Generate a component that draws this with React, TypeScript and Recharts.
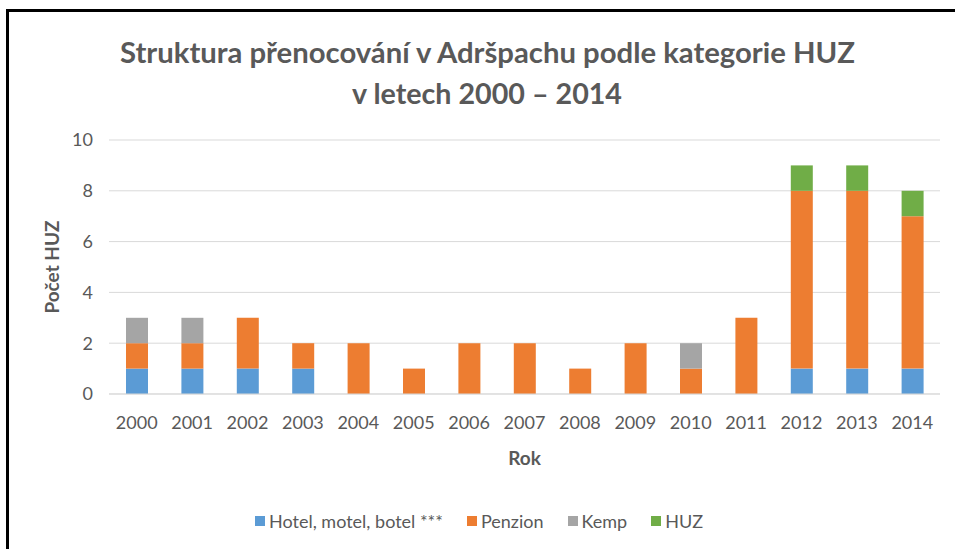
import React from "react";
import { BarChart, Bar, XAxis, YAxis, CartesianGrid, Legend, Label } from "recharts";

const years = ["2000","2001","2002","2003","2004","2005","2006","2007","2008","2009","2010","2011","2012","2013","2014"];
const hotel = [1, 1, 1, 1, 0, 0, 0, 0, 0, 0, 0, 0, 1, 1, 1];
const penzion = [1, 1, 2, 1, 2, 1, 2, 2, 1, 2, 1, 3, 7, 7, 6];
const kemp = [1, 1, 0, 0, 0, 0, 0, 0, 0, 0, 1, 0, 0, 0, 0];
const huz = [0, 0, 0, 0, 0, 0, 0, 0, 0, 0, 0, 0, 1, 1, 1];
const yTicks = [0, 2, 4, 6, 8, 10];

const seriesNames = ["Hotel, motel, botel ***", "Penzion", "Kemp", "HUZ"];
const seriesKeys = ["hotel", "penzion", "kemp", "huz"];
const colors = ["#5B9BD5", "#ED7D31", "#A5A5A5", "#70AD47"];

const data = years.map((y, i) => ({
  year: y,
  hotel: hotel[i],
  penzion: penzion[i],
  kemp: kemp[i],
  huz: huz[i],
}));

const FONT = "Lato, 'Open Sans', sans-serif";
const TXT = "#595959";

const LegendContent = () => (
  <div style={{ display: "flex", justifyContent: "center", alignItems: "center", height: 24, fontFamily: FONT, fontSize: 18, color: TXT, paddingLeft: 18 }}>
    {seriesNames.map((n, i) => (
      <div key={n} style={{ display: "flex", alignItems: "center", marginRight: i < 3 ? 24 : 0 }}>
        <div style={{ width: 10, height: 10, background: colors[i], marginRight: 4 }} />
        <span>{n}</span>
      </div>
    ))}
  </div>
);

export default function App() {
  return (
    <div style={{ position: "absolute", left: 0, top: 0, width: 955, height: 549, background: "#fff", overflow: "hidden" }}>
      <div style={{ position: "absolute", left: 6, top: 9, width: 960, height: 560, borderTop: "3px solid #000", borderLeft: "3px solid #000" }} />
      <svg width={955} height={120} style={{ position: "absolute", left: 0, top: 0 }}>
        <text x={487.5} y={63} textAnchor="middle" fontFamily={FONT} fontWeight="bold" fontSize={28} fill={TXT} textLength={735} lengthAdjust="spacingAndGlyphs">
          Struktura přenocování v Adršpachu podle kategorie HUZ
        </text>
        <text x={487} y={104} textAnchor="middle" fontFamily={FONT} fontWeight="bold" fontSize={28} fill={TXT} textLength={270} lengthAdjust="spacingAndGlyphs">
          v letech 2000 – 2014
        </text>
      </svg>
      <div style={{ position: "absolute", left: 0, top: 0 }}>
        <BarChart width={955} height={549} data={data} margin={{ top: 140, right: 15, left: 0, bottom: 16 }} barSize={22}>
          <CartesianGrid vertical={false} stroke="#D9D9D9" strokeWidth={1} />
          <XAxis dataKey="year" height={115} tickLine={false} axisLine={{ stroke: "#D9D9D9" }} tickSize={0} tickMargin={22}
            tick={{ fill: TXT, fontSize: 18, fontFamily: FONT }} interval={0}>
            <Label value="Rok" position="insideTop" offset={58} style={{ fill: TXT, fontSize: 19, fontWeight: "bold", fontFamily: FONT }} />
          </XAxis>
          <YAxis width={109} domain={[0, 10]} ticks={yTicks} tickLine={false} axisLine={false} tickSize={0} tickMargin={16}
            tick={{ fill: TXT, fontSize: 18, fontFamily: FONT }}>
            <Label value="Počet HUZ" angle={-90} position="insideLeft" offset={52} style={{ textAnchor: "middle", fill: TXT, fontSize: 19, fontWeight: "bold", fontFamily: FONT }} />
          </YAxis>
          <Legend verticalAlign="bottom" height={24} content={<LegendContent />} />
          {seriesKeys.map((k, i) => (
            <Bar key={k} dataKey={k} name={seriesNames[i]} stackId="a" fill={colors[i]} isAnimationActive={false} />
          ))}
        </BarChart>
      </div>
    </div>
  );
}
